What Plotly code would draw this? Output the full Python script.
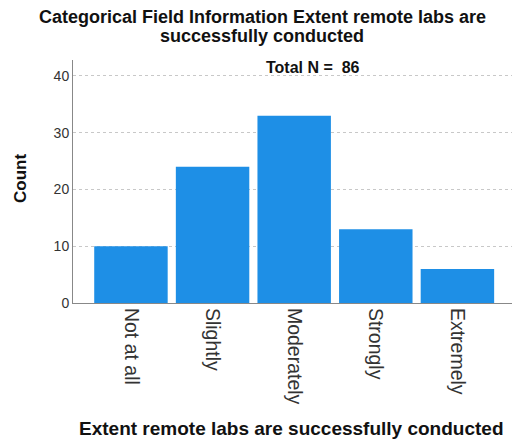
import plotly.graph_objects as go

categories = ["Not at all", "Slightly", "Moderately", "Strongly", "Extremely"]
counts = [10, 24, 33, 13, 6]
total_n = 86
title_lines = ["Categorical Field Information Extent remote labs are", "successfully conducted"]

# The page body has an 8px margin, so the figure is drawn 8px smaller and
# all positions are shifted accordingly.
W, H = 512, 432
L, R, T, B = 65, 3, 52, 137
PW, PH = W - L - R, H - T - B

fig = go.Figure(go.Bar(
    x=categories, y=counts,
    marker=dict(color="#1e8fe6", line=dict(width=0)),
    width=0.9,
))

font_family = "Liberation Sans, Arial, sans-serif"
fig.update_layout(
    width=W, height=H,
    margin=dict(l=L, r=R, t=T, b=B),
    paper_bgcolor="white", plot_bgcolor="white",
    font=dict(family=font_family, color="#222"),
    showlegend=False,
    xaxis=dict(
        range=[-0.71, 4.73], automargin=False,
        tickangle=90, tickfont=dict(size=19.5, color="#333"),
        showline=True, linecolor="#888", linewidth=1,
        ticks="", showgrid=False,
    ),
    yaxis=dict(
        range=[0, 42.8], automargin=False,
        tickvals=[0, 10, 20, 30, 40],
        tickfont=dict(size=14, color="#333"),
        showline=True, linecolor="#888", linewidth=1,
        ticks="", showgrid=True, gridcolor="#c8c8c8", griddash="3px,3px",
        zeroline=False,
    ),
)


def py(fig_y):
    """figure-pixel y (from top) -> paper coordinate"""
    return (T + PH - fig_y) / PH


def px(fig_x):
    return (fig_x - L) / PW


anns = [
    dict(x=px(254), y=py(9), xref="paper", yref="paper",
         xanchor="center", yanchor="middle",
         text=f"<b>{title_lines[0]}</b>",
         showarrow=False, font=dict(size=18, color="#111")),
    dict(x=px(254), y=py(28), xref="paper", yref="paper",
         xanchor="center", yanchor="middle",
         text=f"<b>{title_lines[1]}</b>",
         showarrow=False, font=dict(size=18, color="#111")),
    dict(x=px(305), y=py(60), xref="paper", yref="paper",
         xanchor="center", yanchor="middle",
         text=f"<b>Total N =&nbsp;&nbsp;{total_n}</b>", showarrow=False,
         font=dict(size=16, color="#111")),
    dict(x=px(12), y=py(171), xref="paper", yref="paper",
         textangle=-90, xanchor="center", yanchor="middle",
         text="<b>Count</b>", showarrow=False, font=dict(size=17, color="#111")),
    dict(x=px(283), y=py(420), xref="paper", yref="paper",
         xanchor="center", yanchor="middle",
         text="<b>Extent remote labs are successfully conducted</b>", showarrow=False,
         font=dict(size=19, color="#111")),
]
fig.update_layout(annotations=anns)

fig.write_html("out.html")
